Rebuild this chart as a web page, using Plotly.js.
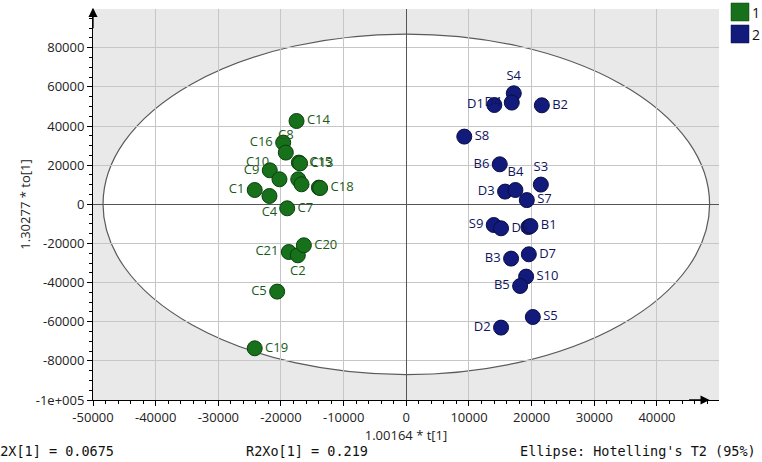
<!DOCTYPE html>
<html>
<head>
<meta charset="utf-8">
<script src="https://cdn.plot.ly/plotly-3.0.1.min.js"></script>
<style>html,body{margin:0;padding:0;background:#fff;}#chart{width:762px;height:462px;}</style>
</head>
<body>
<div id="chart"></div>
<script>
// ---- data ----
const groupNames = ["1", "2"];

const g1Labels = ["C14","C16","C8","C15","C13","C9","C10","C6","C12","C3","C18","C1","C4","C7","C21","C2","C20","C5","C19"];
const g1X = [-17520,-19650,-19230,-17150,-16950,-21790,-20240,-17250,-16720,-13950,-13750,-24190,-21840,-19010,-18750,-17310,-16350,-20610,-24190];
const g1Y = [42570,31530,26420,21310,20900,17370,12780,12780,10220,8530,8300,7310,4240,-2040,-24370,-26060,-20950,-44610,-73580];

const g2Labels = ["S4","D4","D1","B2","S8","B6","S3","D3","B4","S7","S9","D5","D6","B1","B3","D7","S10","B5","S5","D2"];
const g2X = [17150,16830,14050,21630,9250,14910,21470,15760,17410,19230,13950,15120,19490,19810,16720,19550,19120,18160,20190,15120];
const g2Y = [56720,51970,50740,50590,34590,20440,10070,6490,7310,2150,-10580,-12260,-11600,-11090,-27750,-25550,-36950,-41750,-57590,-63010];

// observations whose labels are hidden by overlap in the reference
const hiddenLabels = ["C6","C12","C3","D6"];

const xTickVals = [-50000,-40000,-30000,-20000,-10000,0,10000,20000,30000,40000];
const xTickText = ["-50000","-40000","-30000","-20000","-10000","0","10000","20000","30000","40000"];
const yTickVals = [-100000,-80000,-60000,-40000,-20000,0,20000,40000,60000,80000];
const yTickText = ["-1e+005","-80000","-60000","-40000","-20000","0","20000","40000","60000","80000"];

const xTitle = "1.00164 * t[1]";
const yTitle = "1.30277 * to[1]";
const footLeft = "R2X[1] = 0.0675";
const footMid = "R2Xo[1] = 0.219";
const footRight = "Ellipse: Hotelling's T2 (95%)";

// Hotelling's T2 (95%) ellipse semi-axes
const ellipseA = 48400;
const ellipseB = 87000;

// ---- styling ----
const colors = ["#17701a", "#121a7c"];
const lineColors = ["#0c3f0e", "#0a0d45"];
const textColors = ["#1a5a1a", "#10145e"];

const g1Pos = {"C14":"middle right","C16":"middle left","C8":"top center","C15":"middle right","C13":"middle right",
  "C10":"top left","C9":"middle left","C18":"middle right","C1":"middle left","C4":"bottom center","C7":"middle right",
  "C21":"middle left","C2":"bottom center","C20":"middle right","C5":"middle left","C19":"middle right"};
const g2Pos = {"S4":"top center","D4":"middle left","D1":"middle left","B2":"middle right","S8":"middle right",
  "B6":"middle left","S3":"top center","D3":"middle left","B4":"top center","S7":"middle right","S9":"middle left",
  "D5":"middle right","B1":"middle right","B3":"middle left","D7":"middle right","S10":"middle right","B5":"middle left",
  "S5":"middle right","D2":"middle left"};

function mkTrace(xs, ys, labels, posMap, i) {
  return {
    type: "scatter", mode: "markers+text",
    x: xs, y: ys,
    text: labels.map(l => hiddenLabels.includes(l) ? "" : l),
    textposition: labels.map(l => posMap[l] || "middle right"),
    textfont: {family: "Open Sans, sans-serif", size: 13, color: textColors[i]},
    marker: {size: 15, color: colors[i], line: {color: lineColors[i], width: 1}},
    name: groupNames[i], showlegend: false, cliponaxis: false,
    hoverinfo: "text"
  };
}

const traces = [
  mkTrace(g1X, g1Y, g1Labels, g1Pos, 0),
  mkTrace(g2X, g2Y, g2Labels, g2Pos, 1)
];

const plotL = 93, plotW = 626, plotH = 391;
const px = p => (p - plotL) / plotW;       // pixel -> paper (x)
const py = p => (400 - p) / plotH;         // pixel -> paper (y)

const tickFont = {family: "Open Sans, sans-serif", size: 13, color: "#222"};
const mono = {family: "DejaVu Sans Mono, monospace", size: 13.5, color: "#111"};

const annotations = [
  // axis arrows
  {xref:"paper", yref:"paper", x:0, y:1.003, ax:0, ay:22, axref:"pixel", ayref:"pixel", text:"", showarrow:true,
   arrowhead:2, arrowsize:1.4, arrowwidth:1.3, arrowcolor:"#000"},
  {xref:"paper", yref:"paper", x:0.985, y:0, ax:-22, ay:0, text:"", showarrow:true,
   arrowhead:2, arrowsize:1.4, arrowwidth:1.3, arrowcolor:"#000"},
  // footer texts
  {xref:"paper", yref:"paper", x:px(-10), y:py(451), xanchor:"left", yanchor:"middle", text:footLeft, showarrow:false, font:mono},
  {xref:"paper", yref:"paper", x:px(244), y:py(451), xanchor:"left", yanchor:"middle", text:footMid, showarrow:false, font:mono},
  {xref:"paper", yref:"paper", x:px(518), y:py(451), xanchor:"left", yanchor:"middle", text:footRight, showarrow:false, font:mono},
  // legend labels
  {xref:"paper", yref:"paper", x:px(751), y:py(12), xanchor:"left", yanchor:"middle", text:groupNames[0], showarrow:false,
   borderpad:0, font:{family:"Open Sans, sans-serif", size:14, color:"#111"}},
  {xref:"paper", yref:"paper", x:px(751), y:py(34), xanchor:"left", yanchor:"middle", text:groupNames[1], showarrow:false,
   borderpad:0, font:{family:"Open Sans, sans-serif", size:14, color:"#111"}}
];

const shapes = [
  {type:"circle", xref:"x", yref:"y", x0:-ellipseA, x1:ellipseA, y0:-ellipseB, y1:ellipseB,
   fillcolor:"#ffffff", line:{color:"#5a5a5a", width:1.2}, layer:"below"},
  // legend swatches
  {type:"rect", xref:"paper", yref:"paper", x0:px(731), x1:px(749), y0:py(21), y1:py(3),
   fillcolor:colors[0], line:{color:"#0c3f0e", width:0.5}},
  {type:"rect", xref:"paper", yref:"paper", x0:px(731), x1:px(749), y0:py(43), y1:py(25),
   fillcolor:colors[1], line:{color:"#0a0d45", width:0.5}}
];

const layout = {
  width: 762, height: 462,
  margin: {l: 93, r: 43, t: 9, b: 62},
  paper_bgcolor: "#ffffff",
  plot_bgcolor: "#e9e9e9",
  showlegend: false,
  xaxis: {
    range: [-50000, 49900], tickmode: "array", tickvals: xTickVals, ticktext: xTickText,
    ticks: "outside", ticklen: 5, tickcolor: "#000", tickfont: tickFont,
    showgrid: true, gridcolor: "#c6c6c6", gridwidth: 1,
    zeroline: true, zerolinecolor: "#555", zerolinewidth: 1.6,
    showline: true, linecolor: "#000", linewidth: 1,
    minor: {tickmode: "linear", tick0: 0, dtick: 2000, ticks: "outside", ticklen: 3, tickcolor: "#000", showgrid: false},
    title: {text: xTitle, font: {family: "Open Sans, sans-serif", size: 13, color: "#222"}, standoff: 5},
    fixedrange: true
  },
  yaxis: {
    range: [-100000, 99800], tickmode: "array", tickvals: yTickVals, ticktext: yTickText,
    ticks: "outside", ticklen: 5, tickcolor: "#000", tickfont: tickFont,
    showgrid: true, gridcolor: "#c6c6c6", gridwidth: 1,
    zeroline: true, zerolinecolor: "#555", zerolinewidth: 1.6,
    showline: true, linecolor: "#000", linewidth: 1,
    minor: {tickmode: "linear", tick0: 0, dtick: 5000, ticks: "outside", ticklen: 3, tickcolor: "#000", showgrid: false},
    title: {text: yTitle, font: {family: "Open Sans, sans-serif", size: 13, color: "#222"}, standoff: 2},
    fixedrange: true
  },
  shapes: shapes,
  annotations: annotations
};

Plotly.newPlot("chart", traces, layout, {displayModeBar: false, staticPlot: true});
</script>
</body>
</html>
